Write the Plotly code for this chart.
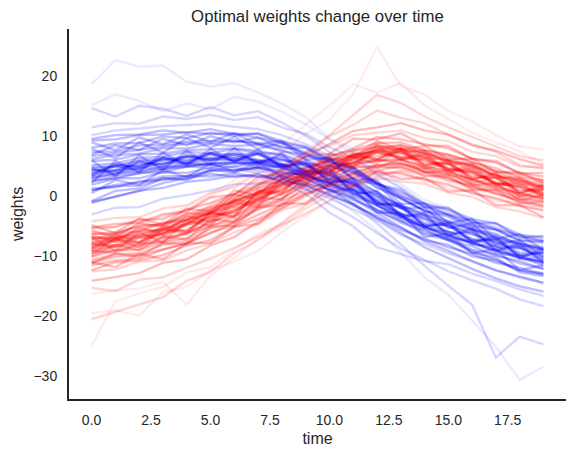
import numpy as np
import plotly.graph_objects as go

# time steps 0..19
time = list(range(20))

# red series (one list per line)
red_lines = [
    [-8.1, -8.6, -7.0, -6.9, -4.8, -4.1, -2.0, -0.9, 1.7, 2.6, 4.9, 5.4, 7.3, 6.2, 6.1, 4.3, 3.9, 2.0, 1.6, 0.2],
    [-7.2, -6.3, -5.9, -4.6, -4.1, -2.0, -1.1, 1.2, 2.6, 4.7, 5.8, 7.5, 8.1, 8.4, 7.0, 6.5, 4.9, 4.1, 2.5, 2.2],
    [-10.2, -9.1, -9.0, -7.8, -7.1, -5.0, -4.1, -1.8, -0.4, 1.8, 2.9, 4.6, 5.1, 5.4, 4.0, 3.5, 1.9, 1.1, -0.5, -0.9],
    [-5.4, -5.2, -4.0, -3.9, -2.3, -1.2, 0.3, 1.8, 3.4, 4.6, 5.9, 6.5, 7.6, 7.0, 6.3, 4.6, 4.0, 2.2, 1.5, 0.3],
    [-11.6, -10.8, -10.5, -9.0, -7.9, -6.3, -4.4, -2.1, -0.6, 2.1, 4.0, 6.1, 7.7, 8.4, 7.5, 6.8, 5.7, 4.1, 3.5, 2.6],
    [-7.9, -7.0, -6.8, -5.5, -4.7, -2.8, -1.8, 0.6, 1.9, 3.9, 5.0, 6.9, 7.2, 7.6, 6.3, 5.9, 4.1, 3.4, 1.8, 1.5],
    [-9.3, -8.5, -8.2, -7.0, -6.4, -4.3, -3.3, -1.1, 0.2, 2.5, 3.4, 5.3, 5.8, 6.2, 4.7, 4.3, 2.5, 1.9, 0.1, 0.0],
    [-6.3, -6.4, -4.9, -4.9, -3.5, -2.4, -0.9, 0.5, 2.1, 3.5, 4.5, 5.5, 6.0, 5.4, 4.1, 3.0, 1.4, 0.5, -1.0, -1.8],
    [-10.7, -9.8, -9.6, -8.2, -7.6, -5.5, -4.5, -2.3, -0.9, 0.8, 2.6, 3.7, 4.9, 4.6, 3.9, 2.6, 1.7, 0.3, -0.6, -1.6],
    [-14.2, -13.5, -12.9, -11.2, -10.6, -8.3, -6.9, -4.3, -2.2, 0.0, 2.1, 3.8, 5.1, 5.3, 4.6, 3.5, 2.8, 1.2, 0.4, -0.6],
    [-4.3, -3.7, -3.6, -2.1, -1.6, 0.5, 1.4, 3.8, 5.0, 7.2, 8.3, 10.1, 10.5, 10.9, 9.6, 9.1, 7.3, 6.6, 4.9, 4.7],
    [-12.6, -12.3, -11.0, -10.8, -9.1, -8.0, -6.1, -4.8, -2.4, -1.3, 0.8, 1.5, 3.0, 2.4, 2.0, 0.5, -0.2, -1.9, -2.6, -3.7],
    [-8.9, -7.2, -7.9, -5.6, -5.9, -3.1, -2.9, 0.3, 0.7, 3.8, 3.9, 6.6, 6.1, 7.5, 5.2, 5.5, 3.0, 3.1, 0.6, 1.2],
    [-7.8, -7.3, -6.1, -5.8, -3.9, -2.9, -0.9, 0.6, 2.8, 4.1, 6.4, 7.9, 9.8, 9.4, 8.6, 7.9, 6.2, 5.5, 3.8, 3.2],
    [-8.2, -7.5, -7.1, -5.9, -4.6, -2.7, -0.6, 2.0, 4.6, 7.3, 10.1, 13.4, 16.8, 15.5, 13.2, 11.4, 9.8, 8.1, 6.6, 5.9],
    [-20.6, -19.4, -18.1, -16.9, -14.2, -12.7, -9.6, -7.4, -4.5, -1.6, 0.9, 3.0, 4.7, 5.0, 4.4, 3.6, 2.1, 1.5, 0.0, -0.4],
    [-15.4, -15.9, -14.0, -13.6, -12.0, -10.5, -8.7, -6.8, -4.9, -3.0, -0.8, 1.6, 3.2, 4.2, 3.6, 2.9, 1.4, 0.9, -0.2, -1.0],
    [-9.6, -9.0, -8.5, -7.4, -6.0, -4.6, -2.5, -0.8, 1.2, 3.2, 4.9, 6.5, 7.7, 7.9, 7.0, 5.9, 5.0, 3.3, 2.4, 1.3],
    [-6.4, -6.1, -5.2, -4.7, -3.1, -1.9, -0.2, 1.4, 3.5, 4.8, 6.7, 7.6, 8.8, 8.9, 7.6, 6.9, 5.5, 4.6, 3.0, 2.6],
    [-11.1, -10.2, -9.9, -8.9, -8.0, -6.1, -5.0, -3.2, -1.5, 0.4, 1.8, 3.0, 3.9, 3.8, 2.7, 1.9, 0.4, -0.4, -1.7, -2.4],
    [-6.9, -7.2, -5.6, -4.4, -3.9, -1.5, 0.2, 2.6, 4.3, 6.8, 9.9, 11.8, 14.2, 13.0, 12.1, 10.2, 8.6, 7.3, 5.1, 4.5],
    [-25.0, -17.6, -16.3, -15.2, -12.8, -11.9, -9.1, -6.3, -4.7, -2.1, 0.2, 2.4, 3.6, 4.1, 3.3, 2.4, 1.1, 0.2, -1.3, -1.9],
    [-8.0, -8.3, -6.6, -6.5, -4.9, -3.6, -2.4, -0.1, 1.6, 2.9, 4.4, 6.3, 6.6, 7.3, 5.6, 5.2, 3.3, 2.9, 0.9, 0.9],
    [-8.8, -7.6, -7.7, -6.1, -5.7, -3.5, -2.7, -0.4, 1.0, 3.3, 4.1, 5.6, 7.1, 6.5, 6.0, 4.5, 3.8, 2.1, 1.4, 0.0],
    [-7.0, -7.1, -5.8, -5.7, -4.0, -2.8, -1.0, 0.4, 2.7, 4.0, 6.0, 6.7, 8.3, 7.7, 7.2, 5.8, 5.1, 3.4, 2.7, 1.5],
    [-16.3, -15.8, -15.5, -14.4, -18.2, -13.3, -10.4, -7.1, -5.3, -2.2, 0.1, 2.1, 3.5, 3.7, 2.4, 1.6, 0.7, -0.6, -1.3, -2.1],
    [-19.6, -19.1, -20.0, -16.1, -15.2, -12.4, -11.0, -9.2, -6.1, -3.4, -0.9, 1.5, 2.6, 3.4, 2.8, 1.2, 0.6, -0.8, -1.5, -2.6],
    [-6.0, -5.1, -4.3, -3.6, -1.9, -0.1, 1.8, 4.4, 7.2, 10.3, 12.6, 17.0, 24.8, 18.3, 16.9, 14.1, 12.4, 10.1, 8.2, 7.7],
    [-7.5, -6.4, -5.1, -3.3, -2.8, 0.3, 2.5, 5.2, 8.5, 11.9, 15.0, 18.6, 17.2, 18.8, 15.1, 12.8, 10.5, 8.9, 7.4, 5.3],
    [-9.1, -8.2, -7.9, -6.2, -4.7, -2.4, -0.6, 1.7, 4.3, 6.5, 8.6, 10.8, 11.4, 12.1, 10.9, 10.2, 8.4, 7.5, 6.1, 5.0],
    [-6.9, -9.2, -6.1, -7.8, -4.2, -5.0, -1.1, -1.9, 2.6, 1.8, 5.7, 4.6, 8.0, 5.9, 6.9, 3.8, 4.7, 1.6, 2.3, -0.4],
    [-9.8, -7.1, -8.6, -5.5, -6.4, -2.9, -3.4, 0.7, 0.2, 4.1, 3.6, 6.9, 5.9, 7.9, 4.9, 5.6, 2.8, 3.5, 0.3, 1.6],
    [-5.8, -6.9, -4.5, -5.2, -2.9, -3.1, 0.2, -0.6, 2.9, 3.1, 6.1, 5.9, 8.6, 7.2, 7.6, 5.3, 5.4, 2.9, 3.1, 1.0],
    [-11.3, -9.6, -10.2, -7.9, -8.1, -5.2, -5.0, -1.9, -1.6, 1.6, 1.9, 4.9, 4.7, 6.1, 3.9, 4.2, 1.7, 2.2, -0.8, 0.1],
    [-11.1, -11.9, -9.7, -10.6, -7.9, -7.9, -5.2, -4.7, -1.3, -1.3, 1.9, 1.7, 4.1, 2.8, 3.0, 0.7, 0.9, -1.6, -1.6, -3.6],
    [-8.7, -6.5, -7.8, -5.0, -6.1, -2.7, -3.6, 0.9, 0.6, 4.3, 3.8, 7.2, 6.1, 8.0, 5.1, 5.9, 2.6, 3.8, 0.4, 1.9],
    [-4.9, -6.2, -3.8, -4.8, -2.2, -2.6, 0.9, 0.0, 3.8, 3.5, 7.0, 6.4, 9.1, 7.7, 8.3, 6.1, 6.2, 3.9, 3.9, 2.1],
    [-12.4, -11.1, -10.8, -9.9, -8.3, -7.4, -5.2, -3.9, -1.9, 0.3, 1.6, 3.5, 4.2, 4.9, 3.3, 3.2, 1.0, 0.9, -1.2, -1.1],
    [-5.3, -4.7, -4.5, -3.1, -2.6, -0.3, 0.2, 3.1, 3.9, 6.6, 7.0, 9.5, 9.4, 10.4, 8.4, 8.3, 6.1, 5.8, 3.7, 3.8],
    [-6.6, -7.7, -5.3, -6.4, -3.4, -4.4, -0.6, -1.5, 3.1, 2.3, 6.3, 4.9, 8.4, 6.0, 7.3, 4.0, 5.2, 1.8, 2.8, 0.5],
    [-10.1, -8.2, -9.1, -6.8, -7.3, -3.9, -4.4, -0.3, -0.6, 3.4, 2.6, 6.4, 5.4, 7.5, 4.5, 5.4, 2.1, 3.1, -0.2, 1.1],
    [-7.4, -6.8, -6.5, -5.3, -4.1, -3.0, -1.4, 0.2, 2.0, 3.9, 5.2, 6.8, 7.4, 7.8, 6.6, 6.0, 4.6, 3.6, 2.1, 1.8],
    [-9.2, -9.5, -8.0, -7.7, -6.2, -5.1, -3.5, -1.6, 0.4, 2.0, 3.6, 5.0, 5.9, 5.9, 5.0, 3.9, 2.8, 1.5, 0.5, -0.5],
    [-8.5, -7.3, -6.9, -6.4, -4.6, -3.5, -1.6, -0.7, 1.9, 2.8, 5.0, 5.5, 7.5, 6.4, 6.6, 4.4, 4.3, 2.0, 1.9, 0.3],
]

# blue series
blue_lines = [
    [4.3, 4.1, 5.6, 5.2, 6.6, 6.0, 6.9, 5.8, 6.2, 4.1, 3.6, 1.0, -0.2, -3.0, -3.8, -6.1, -6.3, -8.5, -8.7, -10.4],
    [6.1, 6.8, 7.0, 7.9, 7.9, 8.6, 8.3, 8.5, 7.4, 6.9, 5.0, 3.8, 1.3, -0.4, -2.5, -3.2, -5.1, -5.7, -7.4, -7.6],
    [1.8, 2.9, 2.9, 3.9, 3.8, 4.6, 4.2, 4.7, 3.4, 2.9, 1.0, -0.3, -2.6, -4.1, -6.5, -7.3, -9.0, -9.8, -11.3, -12.2],
    [9.2, 9.4, 10.1, 10.2, 10.6, 10.3, 10.4, 9.6, 8.9, 7.0, 5.3, 2.9, 0.6, -2.0, -3.4, -5.2, -6.0, -8.1, -8.8, -10.1],
    [-1.2, -0.1, 0.8, 2.1, 3.0, 4.2, 4.9, 5.6, 5.9, 5.5, 4.8, 3.9, 2.0, 0.6, -1.3, -2.3, -3.9, -4.6, -6.5, -7.0],
    [5.1, 5.4, 6.3, 6.5, 7.3, 7.1, 7.8, 7.1, 7.0, 5.4, 4.4, 2.3, 0.6, -1.7, -3.0, -4.7, -5.6, -7.3, -8.0, -9.2],
    [2.9, 3.8, 4.0, 4.9, 4.9, 5.5, 5.4, 5.6, 4.5, 3.9, 2.0, 0.9, -1.7, -3.2, -5.4, -6.0, -8.1, -8.5, -10.4, -10.8],
    [7.3, 7.4, 8.4, 8.5, 9.0, 9.1, 9.2, 8.6, 7.6, 6.1, 4.0, 1.8, -0.9, -3.3, -5.6, -7.5, -9.2, -10.7, -12.4, -13.2],
    [1.2, 1.4, 2.4, 2.6, 3.3, 3.2, 3.7, 3.1, 2.8, 1.5, 0.3, -1.6, -3.4, -5.7, -7.1, -8.6, -9.7, -11.2, -12.0, -13.1],
    [11.4, 12.1, 12.0, 13.2, 12.8, 13.5, 12.6, 13.1, 11.4, 10.3, 8.1, 6.4, 3.5, 1.3, -1.4, -2.6, -4.3, -5.2, -6.9, -7.4],
    [-3.1, -2.0, -1.9, -0.5, 0.1, 0.9, 1.9, 2.0, 2.2, 1.1, -0.4, -2.3, -4.1, -6.5, -8.0, -9.6, -10.9, -12.5, -13.4, -14.6],
    [3.5, 5.3, 4.6, 6.4, 5.4, 7.1, 5.8, 7.0, 5.0, 5.3, 2.6, 2.2, -1.2, -1.8, -4.9, -4.8, -7.5, -7.3, -9.9, -9.5],
    [4.6, 5.0, 5.8, 5.9, 6.5, 6.4, 6.9, 6.0, 5.2, 3.7, 1.5, -1.4, -4.6, -8.1, -11.7, -15.0, -18.2, -27.0, -23.5, -24.8],
    [3.1, 4.2, 4.5, 5.8, 5.3, 6.0, 5.9, 5.2, 4.0, 2.3, 0.1, -2.6, -5.8, -9.4, -13.6, -16.5, -20.8, -25.2, -30.7, -28.5],
    [18.6, 22.6, 21.5, 21.7, 19.0, 18.2, 18.8, 17.2, 15.4, 13.1, 9.5, 7.8, 4.6, 1.9, -0.7, -2.1, -4.6, -5.5, -7.9, -8.2],
    [14.6, 13.2, 15.0, 14.5, 13.3, 14.8, 13.4, 14.1, 12.2, 10.0, 7.3, 4.8, 2.2, -0.6, -2.5, -4.3, -5.2, -7.0, -7.8, -9.0],
    [5.8, 6.0, 6.9, 7.0, 7.6, 7.8, 7.9, 7.5, 6.7, 5.1, 3.4, 1.4, -0.9, -3.2, -5.1, -6.5, -8.0, -9.1, -10.5, -11.2],
    [2.3, 3.2, 3.7, 4.4, 4.8, 5.3, 5.4, 5.5, 5.1, 4.4, 3.3, 1.9, 0.2, -1.6, -3.2, -4.4, -5.6, -6.9, -8.0, -8.8],
    [4.8, 4.9, 5.9, 6.1, 6.5, 7.0, 6.9, 7.0, 6.0, 5.2, 3.6, 2.1, -0.1, -2.0, -3.9, -4.9, -6.4, -7.6, -8.6, -9.6],
    [3.4, 4.2, 4.6, 5.4, 5.5, 6.0, 6.0, 5.9, 5.2, 4.0, 2.8, 1.0, -1.1, -2.9, -4.8, -6.0, -7.3, -8.4, -9.8, -10.5],
    [3.9, 4.3, 5.4, 5.3, 6.4, 6.1, 6.2, 5.5, 4.7, 2.9, 1.0, -1.4, -3.8, -6.3, -8.6, -10.4, -12.2, -13.8, -15.1, -16.0],
    [4.2, 4.8, 5.0, 5.9, 5.9, 6.3, 6.6, 5.7, 5.3, 3.5, 1.9, -0.5, -2.9, -5.2, -7.6, -9.2, -10.9, -12.4, -13.6, -14.5],
    [8.0, 8.7, 8.8, 9.9, 9.6, 10.5, 10.0, 10.4, 9.1, 8.2, 6.1, 4.7, 2.2, 0.2, -1.9, -3.1, -4.8, -5.6, -7.5, -7.8],
    [0.9, 1.8, 2.2, 3.2, 3.3, 4.1, 4.3, 4.6, 4.1, 3.3, 2.1, 0.4, -1.6, -3.6, -5.3, -6.6, -7.9, -9.0, -10.3, -11.0],
    [4.4, 3.9, 5.0, 4.8, 5.5, 5.2, 4.6, 3.7, 2.2, 0.3, -2.8, -5.1, -8.6, -9.7, -10.9, -11.4, -13.0, -14.2, -15.6, -16.7],
    [6.6, 7.1, 7.7, 8.2, 8.7, 8.8, 9.1, 8.8, 8.2, 7.2, 5.6, 4.1, 2.1, -0.1, -1.6, -3.1, -4.2, -5.6, -6.6, -7.6],
    [2.8, 3.5, 4.1, 4.4, 5.2, 5.0, 4.9, 4.2, 3.0, 1.1, -1.4, -3.6, -6.2, -8.8, -10.7, -12.6, -14.1, -15.5, -17.3, -18.4],
    [3.7, 5.1, 4.9, 6.2, 5.8, 6.9, 6.2, 6.9, 5.3, 5.0, 2.9, 1.9, -0.7, -2.1, -4.5, -5.1, -7.2, -7.7, -9.5, -9.7],
    [10.1, 10.9, 11.2, 11.6, 11.8, 12.0, 11.5, 11.1, 10.1, 8.6, 6.6, 4.4, 2.0, -0.4, -2.5, -4.2, -5.7, -7.1, -8.4, -9.0],
    [15.1, 16.9, 15.8, 14.1, 15.4, 14.4, 16.5, 15.7, 14.0, 11.9, 9.4, 7.1, 3.8, 1.5, -1.3, -3.4, -5.2, -6.3, -8.3, -9.1],
    [5.9, 3.2, 6.7, 4.3, 7.5, 5.1, 7.9, 5.2, 7.1, 3.4, 4.6, 0.2, 0.8, -3.6, -2.9, -6.8, -5.4, -9.3, -7.9, -11.3],
    [2.1, 5.8, 3.9, 7.2, 5.0, 7.8, 5.6, 7.7, 4.6, 5.9, 2.1, 2.9, -1.5, -1.2, -5.3, -4.3, -7.9, -6.7, -10.4, -8.8],
    [7.8, 6.3, 8.9, 7.2, 9.6, 8.0, 9.8, 7.8, 8.9, 6.0, 6.3, 2.8, 2.6, -1.4, -1.2, -4.6, -3.8, -7.2, -6.4, -9.1],
    [0.4, 2.6, 1.8, 4.3, 3.1, 5.4, 4.0, 5.5, 3.2, 4.1, 0.6, 1.2, -2.8, -2.9, -6.9, -6.3, -9.6, -8.9, -12.4, -11.6],
    [0.9, 1.6, 1.7, 2.9, 2.8, 3.7, 3.1, 3.6, 2.4, 1.8, 0.0, -1.3, -3.7, -5.3, -7.4, -8.2, -10.1, -10.8, -12.5, -12.9],
    [3.1, 3.6, 4.6, 4.5, 5.3, 5.2, 5.8, 5.1, 5.0, 3.4, 2.4, 0.3, -1.3, -3.7, -5.0, -6.8, -7.6, -9.2, -10.0, -11.2],
    [6.8, 8.4, 7.6, 9.5, 8.4, 9.9, 8.9, 9.7, 8.0, 7.9, 5.6, 4.7, 1.9, 1.0, -1.9, -2.0, -4.5, -4.6, -7.0, -6.7],
    [-0.9, 0.8, 1.2, 2.9, 2.6, 4.3, 3.9, 4.8, 3.7, 3.6, 1.5, 0.8, -2.4, -3.3, -6.2, -7.0, -9.5, -10.3, -12.8, -13.4],
    [4.6, 3.5, 5.8, 4.8, 6.9, 5.7, 7.3, 5.6, 6.6, 3.9, 4.1, 0.6, 0.3, -3.3, -3.3, -6.5, -5.9, -9.0, -8.4, -10.9],
    [3.3, 5.0, 4.2, 6.4, 5.3, 7.2, 5.7, 7.2, 4.8, 5.5, 2.3, 2.5, -1.4, -1.6, -5.1, -4.7, -7.7, -7.1, -10.2, -9.3],
    [9.5, 10.1, 10.2, 10.9, 10.5, 11.1, 10.3, 10.3, 8.7, 8.1, 5.9, 4.3, 1.5, -0.3, -2.6, -3.5, -5.6, -6.4, -8.3, -8.6],
    [2.6, 2.8, 3.8, 3.9, 4.9, 4.6, 5.6, 4.7, 4.9, 3.0, 2.2, -0.1, -1.5, -4.2, -5.1, -7.2, -7.6, -9.6, -10.1, -11.7],
    [-1.0, -0.2, 0.8, 1.3, 2.3, 2.7, 3.3, 3.2, 3.2, 2.0, 1.1, -0.7, -2.3, -4.5, -5.8, -7.4, -8.4, -10.0, -10.9, -12.2],
    [8.9, 7.6, 9.7, 8.6, 10.2, 9.0, 10.4, 8.6, 9.2, 6.5, 6.2, 2.6, 2.0, -2.0, -2.0, -5.4, -4.6, -8.1, -7.4, -10.2],
]

x_ticks = [0, 2.5, 5, 7.5, 10, 12.5, 15, 17.5]
y_ticks = [-30, -20, -10, 0, 10, 20]


def line_alphas(lines):
    # lines far from the bundle are drawn fainter, like the sparse tails
    arr = np.array(lines)
    dev = np.abs(arr - np.median(arr, axis=0)).mean(axis=1)
    return np.where(dev < 3.5, 0.26, np.where(dev < 5.5, 0.16, 0.08))


red_alpha = line_alphas(red_lines)
blue_alpha = line_alphas(blue_lines)

fig = go.Figure()
# draw blue and red alternately so neither colour sits fully on top
for b, ab, r, ar in zip(blue_lines, blue_alpha, red_lines, red_alpha):
    fig.add_trace(go.Scatter(x=time, y=b, mode='lines',
                             line=dict(color=f'rgba(0,0,255,{ab})', width=2.4),
                             showlegend=False, hoverinfo='skip'))
    fig.add_trace(go.Scatter(x=time, y=r, mode='lines',
                             line=dict(color=f'rgba(255,0,0,{ar})', width=2.4),
                             showlegend=False, hoverinfo='skip'))

ink = '#262626'
fig.update_layout(
    width=575, height=458,
    margin=dict(l=69, r=9, t=29, b=59, autoexpand=False),
    paper_bgcolor='white', plot_bgcolor='white',
    font=dict(family='Liberation Sans, Arial', size=14, color=ink),
    title=dict(text='Optimal weights change over time', x=0.5, xref='paper',
               y=0.965, yref='container', xanchor='center', yanchor='middle',
               font=dict(size=16.8, color=ink)),
    xaxis=dict(range=[-0.95, 19.95], tickvals=x_ticks, tickformat='.1f',
               showgrid=False, zeroline=False, showline=True, linecolor=ink,
               linewidth=2, ticks='', ticklabelstandoff=7, automargin=False,
               title=dict(text='time', standoff=6, font=dict(size=16))),
    yaxis=dict(range=[-33.9, 27.8], tickvals=y_ticks,
               showgrid=False, zeroline=False, showline=True, linecolor=ink,
               linewidth=2, ticks='', ticklabelstandoff=7, automargin=False,
               title=dict(text='weights', standoff=6, font=dict(size=16))),
)

# the page body has a default margin; drop it so the figure sits at 0,0
fig.write_html("out.html", config={'displayModeBar': False},
               post_script="document.body.style.margin='0';")
